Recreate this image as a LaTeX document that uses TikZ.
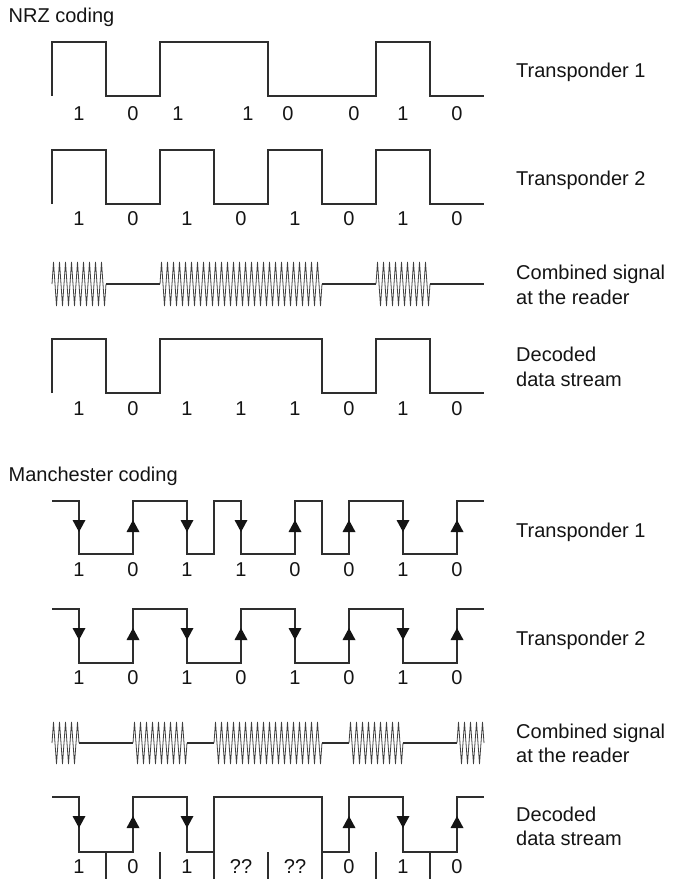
\documentclass[tikz,border=0pt]{standalone}
\usepackage{fontspec}
\setmainfont{Liberation Sans}
\usetikzlibrary{decorations.pathmorphing}
\begin{document}
\begin{tikzpicture}[x=1pt,y=-1pt,
  wave/.style={line width=1.4pt, draw=black!82, line join=miter},
  carrier/.style={line width=0.8pt, draw=black!75, decorate,
     decoration={zigzag, segment length=6pt, amplitude=#1}},
  carrier/.default=22pt,
  lbl/.style={font=\fontsize{20}{25}\selectfont, text=black!92, inner sep=0pt},
  bit/.style={lbl, anchor=center},
  side/.style={lbl, anchor=base west},
  ttl/.style={lbl, anchor=base west},
  tip/.style={fill=black!92, draw=none}
]
\useasboundingbox (0,0) rectangle (676,880);

% ---------------- NRZ ----------------
\node[ttl] (nrz) at (8.5,22.7) {NRZ coding};

% Transponder 1
\draw[wave] (52,96) -- (52,42) -- (106,42) -- (106,96) -- (160,96) -- (160,42)
  -- (268,42) -- (268,96) -- (376,96) -- (376,42) -- (430,42) -- (430,96) -- (484,96);
\foreach \x/\b [count=\i] in {79/1,133/0,178/1,248/1,288/0,354/0,403/1,457/0}
  \node[bit] (na\i) at (\x,114) {\b};
\node[side] (nt1) at (516,77.3) {Transponder 1};

% Transponder 2
\draw[wave] (52,204) -- (52,150) -- (106,150) -- (106,204) -- (160,204) -- (160,150)
  -- (214,150) -- (214,204) -- (268,204) -- (268,150) -- (322,150) -- (322,204)
  -- (376,204) -- (376,150) -- (430,150) -- (430,204) -- (484,204);
\foreach \x/\b [count=\i] in {79/1,133/0,187/1,241/0,295/1,349/0,403/1,457/0}
  \node[bit] (nb\i) at (\x,219) {\b};
\node[side] (nt2) at (516,185.7) {Transponder 2};

% Combined signal
\draw[carrier] (52,284) -- (106,284);
\draw[wave] (106,284) -- (160,284);
\draw[carrier] (160,284) -- (322,284);
\draw[wave] (322,284) -- (376,284);
\draw[carrier] (376,284) -- (430,284);
\draw[wave] (430,284) -- (484,284);
\node[side] (nc1) at (516,279.3) {Combined signal};
\node[side] (nc2) at (516,304.3) {at the reader};

% Decoded
\draw[wave] (52,393) -- (52,339) -- (106,339) -- (106,393) -- (160,393) -- (160,339)
  -- (322,339) -- (322,393) -- (376,393) -- (376,339) -- (430,339) -- (430,393) -- (484,393);
\foreach \x/\b [count=\i] in {79/1,133/0,187/1,241/1,295/1,349/0,403/1,457/0}
  \node[bit] (nd\i) at (\x,409) {\b};
\node[side] (nd1l) at (516,361.7) {Decoded};
\node[side] (nd2l) at (516,386.7) {data stream};

% ---------------- Manchester ----------------
\node[ttl] (man) at (8.5,481.7) {Manchester coding};

% Transponder 1
\draw[wave] (52,501) -- (79,501) -- (79,554) -- (133,554) -- (133,501) -- (187,501)
  -- (187,554) -- (214,554) -- (214,501) -- (241,501) -- (241,554) -- (295,554)
  -- (295,501) -- (322,501) -- (322,554) -- (349,554) -- (349,501) -- (403,501)
  -- (403,554) -- (457,554) -- (457,501) -- (484,501);
\foreach \x in {79,187,241,403}
  \fill[tip] ({\x-6.5},520) -- ({\x+6.5},520) -- (\x,532) -- cycle;
\foreach \x in {133,295,349,457}
  \fill[tip] ({\x-6.5},532) -- ({\x+6.5},532) -- (\x,520) -- cycle;
\foreach \x/\b [count=\i] in {79/1,133/0,187/1,241/1,295/0,349/0,403/1,457/0}
  \node[bit] (ma\i) at (\x,570) {\b};
\node[side] (mt1) at (516,537.3) {Transponder 1};

% Transponder 2
\draw[wave] (52,609) -- (79,609) -- (79,663) -- (133,663) -- (133,609) -- (187,609)
  -- (187,663) -- (241,663) -- (241,609) -- (295,609) -- (295,663) -- (349,663)
  -- (349,609) -- (403,609) -- (403,663) -- (457,663) -- (457,609) -- (484,609);
\foreach \x in {79,187,295,403}
  \fill[tip] ({\x-6.5},628) -- ({\x+6.5},628) -- (\x,640) -- cycle;
\foreach \x in {133,241,349,457}
  \fill[tip] ({\x-6.5},640) -- ({\x+6.5},640) -- (\x,628) -- cycle;
\foreach \x/\b [count=\i] in {79/1,133/0,187/1,241/0,295/1,349/0,403/1,457/0}
  \node[bit] (mb\i) at (\x,677.5) {\b};
\node[side] (mt2) at (516,645) {Transponder 2};

% Combined signal
\draw[carrier=21pt] (52,743) -- (79,743);
\draw[wave] (79,743) -- (133,743);
\draw[carrier=21pt] (133,743) -- (187,743);
\draw[wave] (187,743) -- (214,743);
\draw[carrier=21pt] (214,743) -- (322,743);
\draw[wave] (322,743) -- (349,743);
\draw[carrier=21pt] (349,743) -- (403,743);
\draw[wave] (403,743) -- (457,743);
\draw[carrier=21pt] (457,743) -- (484,743);
\node[side] (mc1) at (516,738.3) {Combined signal};
\node[side] (mc2) at (516,762.7) {at the reader};

% Decoded
\draw[wave] (52,797) -- (79,797) -- (79,852) -- (133,852) -- (133,797) -- (187,797)
  -- (187,852) -- (214,852) -- (214,797) -- (322,797) -- (322,852) -- (349,852)
  -- (349,797) -- (403,797) -- (403,852) -- (457,852) -- (457,797) -- (484,797);
\foreach \x in {106,160,214,268,322,376,430}
  \draw[wave] (\x,852) -- (\x,879);
\foreach \x in {79,187,403}
  \fill[tip] ({\x-6.5},816) -- ({\x+6.5},816) -- (\x,828) -- cycle;
\foreach \x in {133,349,457}
  \fill[tip] ({\x-6.5},828) -- ({\x+6.5},828) -- (\x,816) -- cycle;
\foreach \x/\b [count=\i] in {79/1,133/0,187/1,241/??,295/??,349/0,403/1,457/0}
  \node[bit] (md\i) at (\x,867) {\b};
\node[side] (md1l) at (516,821) {Decoded};
\node[side] (md2l) at (516,845) {data stream};
\end{tikzpicture}
\end{document}
